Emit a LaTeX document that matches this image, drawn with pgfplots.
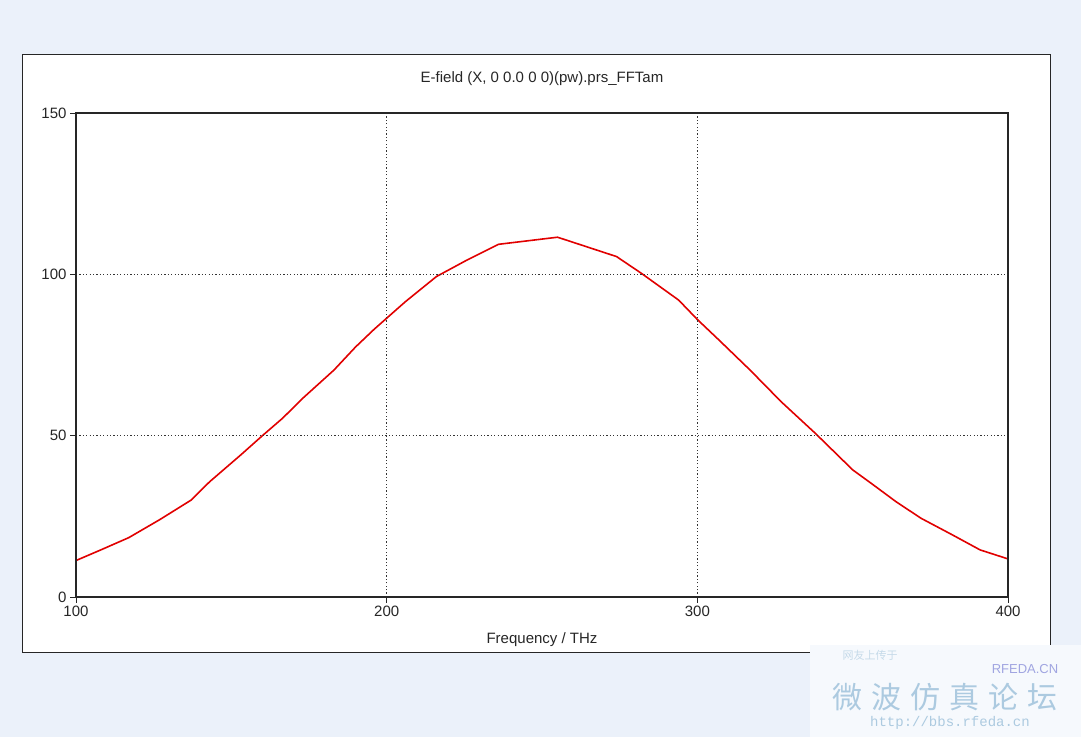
\documentclass[border=0pt]{standalone}
\usepackage{pgfplots}
\pgfplotsset{compat=1.18}
\usepackage{fontspec}
\setmainfont{Liberation Sans}
\newfontfamily\cjk{Noto Sans CJK SC}
\newfontfamily\monof{Liberation Mono}
\definecolor{bgblue}{RGB}{235,241,250}
\definecolor{wmblue}{RGB}{172,202,224}
\definecolor{wmpurple}{RGB}{160,165,225}
\definecolor{curvered}{RGB}{225,0,0}
\begin{document}
\begin{tikzpicture}[x=1bp,y=1bp]
\fill[bgblue] (0,0) rectangle (1081,737);
\filldraw[fill=white, draw=black!85, line width=1bp] (22,84) rectangle (1050,682);
\begin{axis}[
  at={(76bp,140bp)}, anchor=south west,
  scale only axis, width=932bp, height=484bp,
  xmin=100, xmax=400, ymin=0, ymax=150,
  xtick={100,200,300,400}, ytick={0,50,100,150},
  tick align=outside, xtick pos=bottom, ytick pos=left,
  major tick length=6bp,
  axis on top,
  grid=major,
  grid style={black!80, dash pattern=on 1.2bp off 2.2bp, line width=0.9bp},
  axis line style={black!85, line width=1.1bp},
  tick style={black!85, line width=0.9bp},
  font=\fontsize{15bp}{18bp}\selectfont,
  ticklabel style={font=\fontsize{15bp}{18bp}\selectfont, text=black!85},
  /pgf/number format/assume math mode=true,
  title={E-field (X, 0 0.0 0 0)(pw).prs\_FFTam},
  title style={at={(0.5,1)}, anchor=base, yshift=25bp, text=black!85},
  xlabel={Frequency / THz},
  xlabel style={at={(0.5,0)}, anchor=base, yshift=-47bp, text=black!85},
]
\addplot[curvered, line width=1.6bp] coordinates {
(100,11.3) (108,14.6) (117,18.4) (127,24.0) (137,30.0) (143,35.7)
(153,44.0) (160,50.0) (166.5,55.4) (173,61.6) (183,70.3) (190,77.5)
(196,83.0) (206,91.5) (216,99.3) (226,104.5) (236,109.3) (255,111.5)
(274,105.5) (282,100.3) (294,92.0) (300,86.0) (307,79.6) (317,70.3)
(327,60.5) (338,50.7) (350,39.4) (356,35.2) (364,29.5) (372,24.4)
(382,19.3) (391,14.6) (400,11.8)
};
\end{axis}
\fill[white!55!bgblue] (810,0) rectangle (1081,92);
\node[text=wmblue!70!white, font=\cjk\fontsize{11bp}{11bp}\selectfont] at (870,82) {网友上传于};
\node[text=wmpurple, font=\fontsize{13bp}{13bp}\selectfont] at (1025,68) {RFEDA.CN};
\node[text=wmblue, font=\cjk\fontsize{30bp}{30bp}\selectfont] at (945,40) {微\hspace{9bp}波\hspace{9bp}仿\hspace{9bp}真\hspace{9bp}论\hspace{9bp}坛};
\node[text=wmblue, font=\monof\fontsize{14bp}{14bp}\selectfont] at (950,14) {http://bbs.rfeda.cn};
\end{tikzpicture}
\end{document}
